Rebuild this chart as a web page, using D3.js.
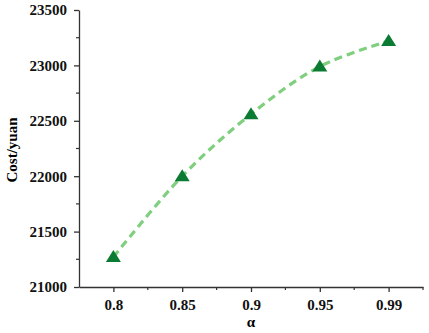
<!DOCTYPE html>
<html>
<head>
<meta charset="utf-8">
<script src="https://cdn.jsdelivr.net/npm/d3@7"></script>
<style>
  body { margin: 0; background: white; }
  text { font-family: "Liberation Serif", "Times New Roman", serif; font-weight: bold; }
</style>
</head>
<body>
<div id="chart"></div>
<script>
// data
var alphas = ['0.8', '0.85', '0.9', '0.95', '0.99']
var costs = [21270, 22000, 22560, 22990, 23220]
var yTicks = [21000, 21500, 22000, 22500, 23000, 23500]

var width = 429, height = 333
var margin = { top: 10, right: 6, bottom: 46, left: 79 }

var svg = d3.select('#chart')
  .append('svg')
  .attr('width', width)
  .attr('height', height)
  .style('background', 'white')

var x = d3.scalePoint()
  .domain(alphas)
  .range([margin.left, width - margin.right])
  .padding(0.5)

var y = d3.scaleLinear()
  .domain([21000, 23500])
  .range([height - margin.bottom, margin.top])

var data = alphas.map((a, i) => ({ a: a, cost: costs[i] }))

// y axis
var yAxis = svg.append('g')
  .attr('transform', `translate(${margin.left},0)`)
  .call(d3.axisLeft(y).tickValues(yTicks).tickFormat(d3.format('d'))
    .tickSize(5).tickSizeOuter(0).tickPadding(7))
yAxis.selectAll('text').attr('font-size', '15px').attr('fill', '#111')
yAxis.select('.domain').attr('stroke', '#333').attr('stroke-width', 1.3)
yAxis.selectAll('.tick line').attr('stroke', '#333').attr('stroke-width', 1.3)

// y minor ticks
svg.append('g')
  .selectAll('line')
  .data(yTicks.slice(0, -1).map(v => v + 250))
  .join('line')
  .attr('x1', margin.left - 3)
  .attr('x2', margin.left)
  .attr('y1', d => y(d))
  .attr('y2', d => y(d))
  .attr('stroke', '#333')
  .attr('stroke-width', 1.2)

// x axis
var xAxis = svg.append('g')
  .attr('transform', `translate(0,${height - margin.bottom})`)
  .call(d3.axisBottom(x).tickSize(5).tickSizeOuter(0).tickPadding(7))
xAxis.selectAll('text').attr('font-size', '15px').attr('fill', '#111')
xAxis.select('.domain').attr('stroke', '#333').attr('stroke-width', 1.3)
xAxis.selectAll('.tick line').attr('stroke', '#333').attr('stroke-width', 1.3)

// x minor ticks, half way between categories
var step = x.step()
svg.append('g')
  .selectAll('line')
  .data(alphas)
  .join('line')
  .attr('x1', d => x(d) + step / 2)
  .attr('x2', d => x(d) + step / 2)
  .attr('y1', height - margin.bottom)
  .attr('y2', height - margin.bottom + 3)
  .attr('stroke', '#333')
  .attr('stroke-width', 1.2)

// dashed smooth line
var line = d3.line()
  .x(d => x(d.a))
  .y(d => y(d.cost))
  .curve(d3.curveCatmullRom)

svg.append('path')
  .datum(data)
  .attr('d', line)
  .attr('fill', 'none')
  .attr('stroke', '#7fcf7f')
  .attr('stroke-width', 3.2)
  .attr('stroke-dasharray', '8,5')

// triangle markers
svg.append('g')
  .selectAll('path')
  .data(data)
  .join('path')
  .attr('transform', d => `translate(${x(d.a)},${y(d.cost)})`)
  .attr('d', 'M0,-7 L7.5,5 L-7.5,5 Z')
  .attr('fill', '#0b7a32')

// axis titles
svg.append('text')
  .attr('x', x('0.9'))
  .attr('y', height - 6)
  .attr('text-anchor', 'middle')
  .attr('font-size', '15px')
  .text('α')

svg.append('text')
  .attr('transform', 'rotate(-90)')
  .attr('x', -150)
  .attr('y', 17)
  .attr('text-anchor', 'middle')
  .attr('font-size', '15px')
  .text('Cost/yuan')
</script>
</body>
</html>
